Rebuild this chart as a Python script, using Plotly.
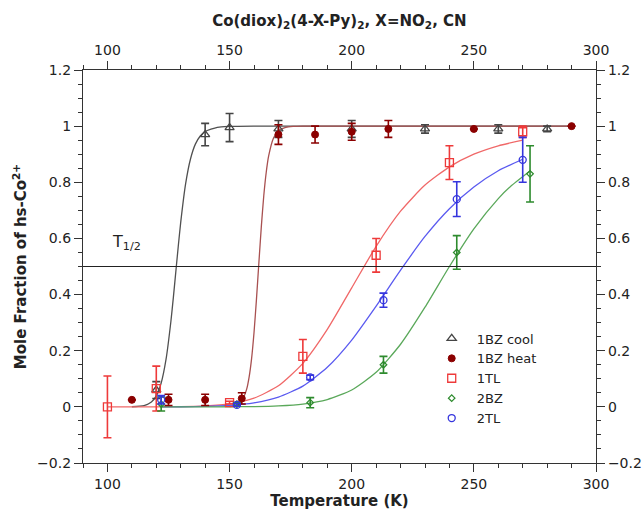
import plotly.graph_objects as go

# ---------------- data ----------------
cool_T = [120, 140, 150, 170, 200, 230, 260, 280]
cool_y = [0.06, 0.97, 0.995, 0.99, 0.99, 0.99, 0.99, 0.99]
cool_err = [0.03, 0.04, 0.05, 0.03, 0.03, 0.015, 0.015, 0.01]

heat_T = [110, 125, 140, 155, 170, 185, 200, 215, 250, 290]
heat_y = [0.025, 0.025, 0.025, 0.03, 0.97, 0.97, 0.98, 0.99, 0.99, 1.0]
heat_err = [0, 0.02, 0.02, 0.02, 0.035, 0.03, 0.03, 0.03, 0, 0]

tl1_T = [100, 120, 150, 180, 210, 240, 270]
tl1_y = [0.0, 0.065, 0.015, 0.18, 0.54, 0.87, 0.98]
tl1_err = [0.11, 0.08, 0.005, 0.06, 0.06, 0.06, 0.02]

bz2_T = [122, 153, 183, 213, 243, 273]
bz2_y = [0.01, 0.01, 0.015, 0.15, 0.55, 0.83]
bz2_err = [0.025, 0.005, 0.018, 0.03, 0.06, 0.1]

tl2_T = [122, 153, 183, 213, 243, 270]
tl2_y = [0.025, 0.007, 0.105, 0.38, 0.74, 0.88]
tl2_err = [0.015, 0.005, 0.008, 0.025, 0.062, 0.08]

# fitted curves
cool_fit_T = [110, 115, 118, 120, 122, 124, 126, 127, 128.2, 129, 130, 132, 134, 136, 138, 140, 145, 150, 160, 200, 250, 290]
cool_fit_y = [0.0004, 0.0046, 0.017, 0.039, 0.085, 0.17, 0.306, 0.391, 0.5, 0.572, 0.657, 0.794, 0.883, 0.936,
              0.965, 0.981, 0.996, 0.999, 1.0, 1.0, 1.0, 1.0]

heat_fit_T = [150, 153, 155, 157, 158, 159, 160, 161, 162, 163, 164, 165, 166, 168, 170, 173, 176, 180, 200, 250, 290]
heat_fit_y = [0.001, 0.0065, 0.021, 0.063, 0.106, 0.171, 0.264, 0.382, 0.514, 0.642, 0.752, 0.835, 0.894, 0.958,
              0.984, 0.996, 0.999, 1.0, 1.0, 1.0, 1.0]

tl1_fit_T = [100, 110, 120, 130, 140, 150, 160, 170, 180, 190, 200, 210, 220, 230, 240, 250, 260, 270]
tl1_fit_y = [0.0, 0.0, 0.0002, 0.0009, 0.0035, 0.011, 0.031, 0.075, 0.155, 0.276, 0.424, 0.572, 0.697, 0.790,
             0.855, 0.900, 0.930, 0.950]

tl2_fit_T = [122, 130, 140, 150, 160, 170, 180, 190, 200, 210, 220, 230, 240, 250, 260, 270]
tl2_fit_y = [0.0001, 0.0004, 0.0016, 0.0052, 0.0144, 0.035, 0.074, 0.141, 0.238, 0.359, 0.487, 0.607, 0.706,
             0.783, 0.841, 0.882]

bz2_fit_T = [122, 130, 140, 150, 160, 170, 180, 190, 200, 210, 220, 230, 240, 250, 260, 265, 273]
bz2_fit_y = [0.0, 0.0, 0.0001, 0.0003, 0.001, 0.0035, 0.010, 0.026, 0.060, 0.123, 0.223, 0.355, 0.5, 0.634,
             0.742, 0.785, 0.840]

T_HALF = 0.5
x_ticks = [100, 150, 200, 250, 300]
y_ticks = [-0.2, 0, 0.2, 0.4, 0.6, 0.8, 1.0, 1.2]

FONT = "DejaVu Sans"

fig = go.Figure()

# fit curves
for T, y, c in [(cool_fit_T, cool_fit_y, "#505050"),
                (heat_fit_T, heat_fit_y, "#a85050"),
                (tl1_fit_T, tl1_fit_y, "#f06868"),
                (tl2_fit_T, tl2_fit_y, "#5a5af0"),
                (bz2_fit_T, bz2_fit_y, "#5aa85a")]:
    fig.add_trace(go.Scatter(x=T, y=y, mode="lines", line=dict(color=c, width=1.3, shape="spline", smoothing=0.6),
                             showlegend=False, hoverinfo="skip"))

fig.add_hline(y=T_HALF, line=dict(color="#222", width=1.2))

def pts(name, T, y, err, color, symbol, size, lw=1.3):
    fig.add_trace(go.Scatter(
        x=T, y=y, mode="markers", name=name,
        marker=dict(symbol=symbol, size=size, color=color, line=dict(color=color, width=lw)),
        error_y=dict(type="data", array=err, visible=True, color=color, thickness=1.6, width=4),
    ))

pts("1BZ cool", cool_T, cool_y, cool_err, "#454545", "triangle-up-open", 8)
pts("1BZ heat", heat_T, heat_y, heat_err, "#8b0000", "circle", 7, lw=1)
pts("1TL", tl1_T, tl1_y, tl1_err, "#ee3a3a", "square-open", 8)
pts("2BZ", bz2_T, bz2_y, bz2_err, "#2e8b2e", "diamond-open", 5)
pts("2TL", tl2_T, tl2_y, tl2_err, "#3535dd", "circle-open", 7)

axis_common = dict(
    showgrid=False, zeroline=False, showline=True, linecolor="#333", linewidth=1.2,
    ticks="outside", ticklen=8, tickwidth=1.2, tickcolor="#333", automargin=False,
    tickfont=dict(family=FONT, size=14, color="#222"),
)

fig.update_layout(
    width=644, height=518,
    margin=dict(l=83, r=48, t=70, b=55),
    plot_bgcolor="white", paper_bgcolor="white",
    font=dict(family=FONT, color="#222"),
    title=dict(text="<b>Co(diox)<sub>2</sub>(4-X-Py)<sub>2</sub>, X=NO<sub>2</sub>, CN</b>",
               x=0.527, xanchor="center", y=0.96, yanchor="middle", yref="container",
               font=dict(family=FONT, size=15, color="#222")),
    xaxis=dict(range=[90, 300], tickvals=x_ticks,
               minor=dict(ticks="outside", dtick=10, ticklen=4, tickwidth=1, tickcolor="#333"),
               title=dict(text="<b>Temperature (K)</b>", font=dict(family=FONT, size=15), standoff=4),
               **axis_common),
    yaxis=dict(range=[-0.2, 1.2], tickvals=y_ticks,
               minor=dict(ticks="outside", dtick=0.05, ticklen=4, tickwidth=1, tickcolor="#333"),
               title=dict(text="<b>Mole Fraction of hs-Co<sup>2+</sup></b>", font=dict(family=FONT, size=15), standoff=6),
               **axis_common),
    xaxis2=dict(range=[90, 300], tickvals=x_ticks, overlaying="x", side="top", anchor="y",
                minor=dict(ticks="outside", dtick=10, ticklen=4, tickwidth=1, tickcolor="#333"),
                **axis_common),
    yaxis2=dict(range=[-0.2, 1.2], tickvals=y_ticks, overlaying="y", side="right", anchor="x",
                minor=dict(ticks="outside", dtick=0.05, ticklen=4, tickwidth=1, tickcolor="#333"),
                **axis_common),
    legend=dict(x=0.67, y=0.355, xanchor="left", yanchor="top", bgcolor="rgba(0,0,0,0)",
                font=dict(family=FONT, size=13, color="#222"), itemwidth=40, tracegroupgap=0),
    annotations=[dict(x=101, y=0.585, xref="x", yref="y", text="T<sub>1/2</sub>", showarrow=False,
                      xanchor="left", yanchor="middle", font=dict(family=FONT, size=16, color="#222"))],
)

# invisible trace to activate the secondary axes
fig.add_trace(go.Scatter(x=[90], y=[-0.2], xaxis="x2", yaxis="y2", mode="markers",
                         marker=dict(opacity=0), showlegend=False, hoverinfo="skip"))

fig.write_html("out.html")
